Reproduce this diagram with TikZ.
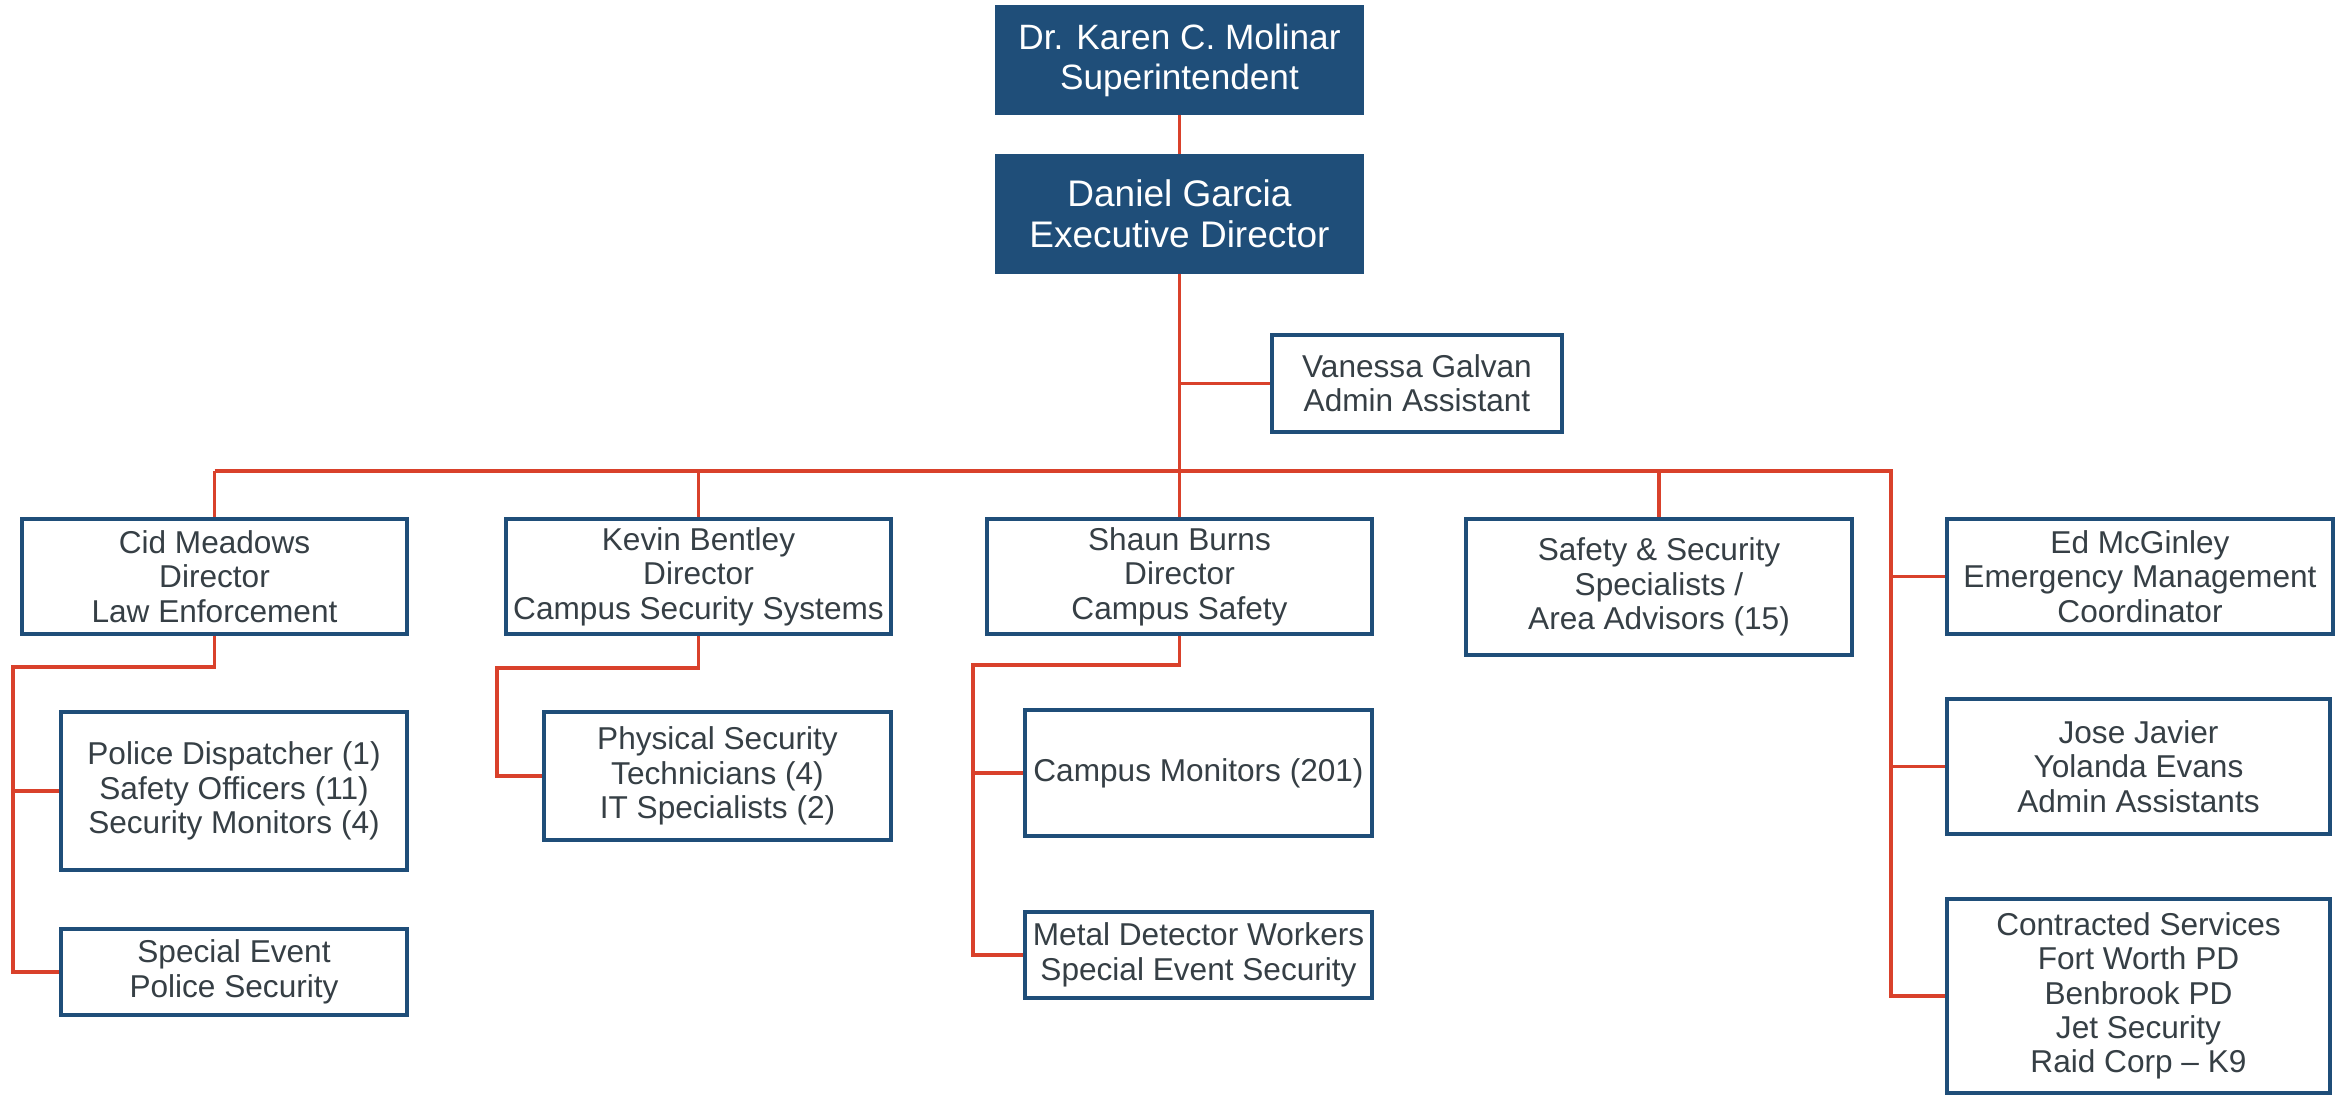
\documentclass[tikz,border=0pt]{standalone}
\usepackage{fontspec}
\setmainfont{Liberation Sans}
\definecolor{navy}{HTML}{1F4E79}
\definecolor{linkred}{HTML}{D9412B}
\definecolor{txtgray}{HTML}{363F45}
\tikzset{
  size/.style 2 args={minimum width=#1*0.5pt, minimum height=#2*0.5pt},
  headbox/.style={rectangle, fill=navy, draw=navy, line width=1.6pt, text=white, align=center, inner sep=0pt},
  staffbox/.style={rectangle, fill=white, draw=navy, line width=1.6pt, text=txtgray, align=center, inner sep=0pt,
    font=\fontsize{15.8}{17.2}\selectfont},
  conn/.style={draw=linkred, line width=1.7pt},
}
\begin{document}
\begin{tikzpicture}[x=0.5pt,y=-0.5pt]
\useasboundingbox (0,0) rectangle (2346,1095);
% top
\node[headbox, size={365}{106}, font=\fontsize{17.6}{20}\selectfont] (sup) at (1179.5,60) {Dr. Karen C. Molinar\\Superintendent};
\node[headbox, size={365}{116}, font=\fontsize{18.5}{20.5}\selectfont] (exec) at (1179.5,214) {Daniel Garcia\\Executive Director};
\node[staffbox, size={290}{97}] (van) at (1417,383.5) {Vanessa Galvan\\Admin Assistant};
% directors
\node[staffbox, size={385}{115}] (cid) at (214.5,576.5) {Cid Meadows\\Director\\Law Enforcement};
\node[staffbox, size={385}{115}] (kev) at (698.5,576.5) {Kevin Bentley\\Director\\Campus Security Systems};
\node[staffbox, size={385}{115}] (shaun) at (1179.5,576.5) {Shaun Burns\\Director\\Campus Safety};
\node[staffbox, size={386}{136}] (safe) at (1659,587) {Safety \& Security\\Specialists /\\Area Advisors (15)};
\node[staffbox, size={386}{115}] (ed) at (2140,576.5) {Ed McGinley\\Emergency Management\\Coordinator};
% sub-units
\node[staffbox, size={346}{158}] (police) at (234,791) {Police Dispatcher (1)\\Safety Officers (11)\\Security Monitors (4)};
\node[staffbox, size={346}{86}] (special) at (234,972) {Special Event\\Police Security};
\node[staffbox, size={347}{128}] (phys) at (717.5,776) {Physical Security\\Technicians (4)\\IT Specialists (2)};
\node[staffbox, size={347}{126}] (mon) at (1198.5,773) {Campus Monitors (201)};
\node[staffbox, size={347}{86}] (metal) at (1198.5,955) {Metal Detector Workers\\Special Event Security};
\node[staffbox, size={383}{135}] (jose) at (2138.5,766.5) {Jose Javier\\Yolanda Evans\\Admin Assistants};
\node[staffbox, size={383}{194}] (contr) at (2138.5,996) {Contracted Services\\Fort Worth PD\\Benbrook PD\\Jet Security\\Raid Corp – K9};
% junction coordinates
\coordinate (busL) at (214.5,471);
\coordinate (busR) at (1891,471);
\coordinate (cidL) at (13,667);
\coordinate (kevL) at (497,668);
\coordinate (shL) at (973,665);
% connectors
\draw[conn] (sup.south) -- (exec.north);
\draw[conn] (exec.south) -- (shaun.north);
\draw[conn] (exec.south |- van.west) -- (van.west);
\draw[conn] (busL) -- (busR) -- (busR |- contr.west) -- (contr.west);
\draw[conn] (busL) -- (cid.north);
\draw[conn] (kev.north |- busL) -- (kev.north);
\draw[conn] (safe.north |- busL) -- (safe.north);
\draw[conn] (busR |- ed.west) -- (ed.west);
\draw[conn] (busR |- jose.west) -- (jose.west);
\draw[conn] (cid.south) -- (cid.south |- cidL) -- (cidL) -- (cidL |- special.west) -- (special.west);
\draw[conn] (cidL |- police.west) -- (police.west);
\draw[conn] (kev.south) -- (kev.south |- kevL) -- (kevL) -- (kevL |- phys.west) -- (phys.west);
\draw[conn] (shaun.south) -- (shaun.south |- shL) -- (shL) -- (shL |- metal.west) -- (metal.west);
\draw[conn] (shL |- mon.west) -- (mon.west);
\end{tikzpicture}
\end{document}
